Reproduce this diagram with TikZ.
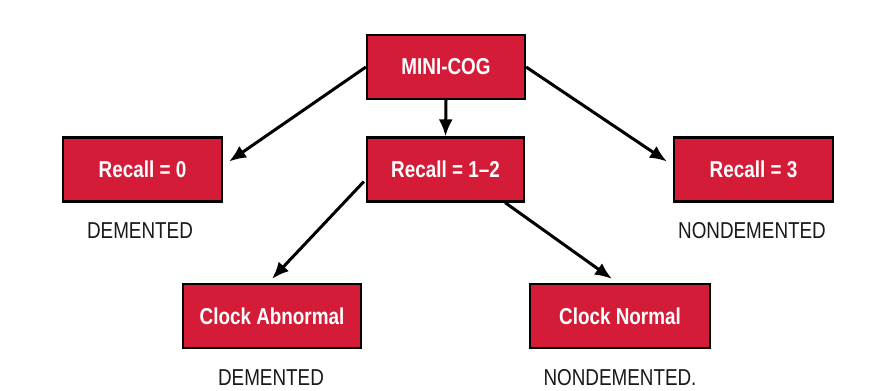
\documentclass[tikz,border=0pt]{standalone}
\usepackage{fontspec}
\setmainfont[FakeStretch=0.82]{Liberation Sans}
\usetikzlibrary{arrows.meta}
\definecolor{boxred}{RGB}{212,28,56}
\definecolor{txtdark}{RGB}{25,25,25}
\tikzset{
  redbox/.style={draw=black, line width=2.2pt, fill=boxred, text=white,
    font=\fontsize{23}{26}\selectfont\bfseries, inner sep=0pt,
    minimum height=64pt},
  outlabel/.style={text=txtdark, font=\fontsize{23}{26}\selectfont, inner sep=0pt},
  arr/.style={line width=3pt, -{Latex[length=17pt,width=14pt]}}
}
\begin{document}
\begin{tikzpicture}[x=1pt,y=-1pt]
\useasboundingbox[fill=white] (0,0) rectangle (871,391);
\node[redbox, minimum width=158pt] (mini) at (446,67) {MINI-COG};
\node[redbox, minimum width=159pt] (r0) at (142.5,169.5) {Recall = 0};
\node[redbox, minimum width=157pt] (r12) at (445.5,169.5) {Recall = 1--2};
\node[redbox, minimum width=159pt] (r3) at (753.5,169.5) {Recall = 3};
\node[redbox, minimum width=178pt] (ca) at (272,316) {Clock Abnormal};
\node[redbox, minimum width=180pt] (cn) at (620,316) {Clock Normal};
\node[outlabel] (d1) at (140,231) {DEMENTED};
\node[outlabel] (n1) at (752,231) {NONDEMENTED};
\node[outlabel] (d2) at (271,378) {DEMENTED};
\node[outlabel] (n2) at (620,378) {NONDEMENTED.};
\draw[arr] (mini.west) -- ([xshift=6pt,yshift=8pt]r0.east);
\draw[arr] (mini.south) -- (r12.north);
\draw[arr] (mini.east) -- ([xshift=-6pt,yshift=8pt]r3.west);
\draw[arr] ([xshift=-2pt,yshift=-12pt]r12.west) -- ([yshift=4pt]ca.north);
\draw[arr] ([xshift=-20pt]r12.south east) -- ([xshift=-8pt,yshift=4pt]cn.north);
\end{tikzpicture}
\end{document}
